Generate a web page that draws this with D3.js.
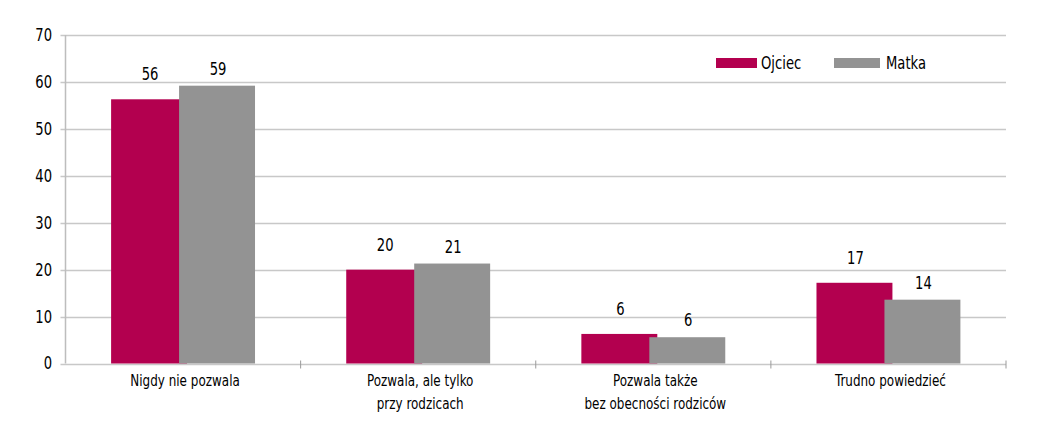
<!DOCTYPE html>
<html><head><meta charset="utf-8">
<script src="https://cdn.jsdelivr.net/npm/d3@7/dist/d3.min.js"></script>
<style>
body{margin:0;background:#fff;}
text{font-family:"Liberation Sans Narrow","DejaVu Sans Condensed","Roboto Condensed",sans-serif;fill:#000;}
</style></head><body>
<svg id="c" width="1043" height="424"></svg>
<script>
const categories = [["Nigdy nie pozwala"],["Pozwala, ale tylko","przy rodzicach"],["Pozwala także","bez obecności rodziców"],["Trudno powiedzieć"]];
const seriesNames = ["Ojciec","Matka"];
const ojciec = [56.3, 20.0, 6.3, 17.2];
const matka = [59.2, 21.3, 5.6, 13.6];
const labelsOjciec = ["56","20","6","17"];
const labelsMatka = ["59","21","6","14"];
const yTicks = [0,10,20,30,40,50,60,70];
const colors = ["#B3004F","#939393"];

const svg = d3.select("#c");
const x0 = 65.5, x1 = 1006, yb = 363.5, yt = 35;
const y = d3.scaleLinear().domain([0,70]).range([yb,yt]);
const x = d3.scaleBand().domain(d3.range(categories.length)).range([x0,x1]).paddingInner(0).paddingOuter(0);
const barW = x.bandwidth()*0.323;
const overlap = barW*0.105;
const SX = 0.86;
function txt(px,py,str,size,anchor,dy){
  return svg.append("text").attr("transform",`translate(${px},${py}) scale(${SX},1)`)
    .attr("text-anchor",anchor||"middle").attr("font-size",size).attr("dy",dy||null).text(str);
}
function bx(i,s){
  const c = x(i)+x.bandwidth()/2;
  const half = barW - overlap/2;
  return s===0 ? c - half : c - overlap/2;
}

// gridlines
svg.append("g").selectAll("line").data(yTicks).join("line")
  .attr("x1",x0-5).attr("x2",x1).attr("y1",d=>Math.round(y(d))+0.5).attr("y2",d=>Math.round(y(d))+0.5)
  .attr("stroke","#c8c8c8").attr("stroke-width",1.5);
// y axis line
svg.append("line").attr("x1",x0).attr("x2",x0).attr("y1",yt).attr("y2",yb)
  .attr("stroke","#bdbdbd").attr("stroke-width",1.5);
// y labels
yTicks.forEach(d=>txt(52,y(d),d,17,"end","0.35em"));
// category ticks
svg.append("g").selectAll("line").data(d3.range(1,categories.length+1)).join("line")
  .attr("x1",d=>x0+d*x.bandwidth()).attr("x2",d=>x0+d*x.bandwidth())
  .attr("y1",yb-3).attr("y2",yb+5).attr("stroke","#9a9a9a").attr("stroke-width",1);

const data = [ojciec, matka];
const labels = [labelsOjciec, labelsMatka];
const offs = [19, 11];
[0,1].forEach(s=>{
  svg.append("g").selectAll("rect").data(data[s]).join("rect")
    .attr("x",(d,i)=>bx(i,s)).attr("width",barW)
    .attr("y",d=>y(d)).attr("height",d=>yb-y(d))
    .attr("fill",colors[s]);
});
[0,1].forEach(s=>{
  data[s].forEach((d,i)=>txt(bx(i,s)+barW/2+1, y(d)-offs[s], labels[s][i], 17));
});

// category labels
categories.forEach((lines,i)=>{
  lines.forEach((l,k)=>txt(x(i)+x.bandwidth()/2+2, 386+k*23, l, 15.5));
});

// legend
const leg = [{x:716,w:41,tx:45,name:seriesNames[0],c:colors[0]},{x:834,w:46,tx:52,name:seriesNames[1],c:colors[1]}];
leg.forEach(l=>{
  svg.append("rect").attr("x",l.x).attr("y",58).attr("width",l.w).attr("height",10).attr("fill",l.c);
  txt(l.x+l.tx,63,l.name,17,"start","0.35em");
});
</script>
</body></html>
